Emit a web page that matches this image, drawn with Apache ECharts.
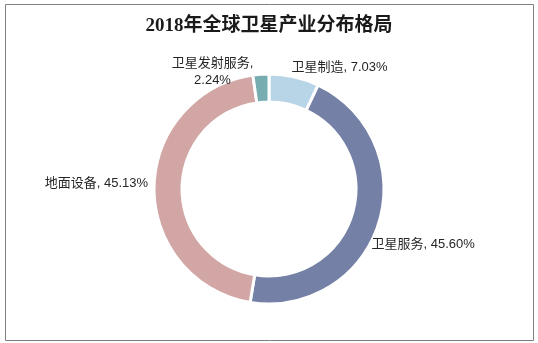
<!DOCTYPE html>
<html>
<head>
<meta charset="utf-8">
<script src="https://cdn.jsdelivr.net/npm/echarts@6/dist/echarts.min.js"></script>
<style>
  html, body { margin: 0; padding: 0; background: #ffffff; }
  #chart { width: 538px; height: 343px; }
</style>
</head>
<body>
<div id="chart"></div>
<script>
// Segments of the 2018 global satellite industry, in percent
const categories = ['卫星制造', '卫星服务', '地面设备', '卫星发射服务'];
const shares = [7.03, 45.60, 45.13, 2.24];
const colors = ['#b8d4e7', '#7480a6', '#d3a6a6', '#77adb0'];
const labelText = ['卫星制造, 7.03%', '卫星服务, 45.60%', '地面设备, 45.13%', '卫星发射服务,\n2.24%'];

// Small nudges applied to the outside labels after the pie lays them out
const labelNudge = [
  { dx: -4, dy: -4 },
  { dx: -13, dy: 19 },
  { dx: 0, dy: -4 },
  { dx: -48, dy: 4, align: 'center' }
];

const chart = echarts.init(document.getElementById('chart'), null, { renderer: 'canvas' });

chart.setOption({
  animation: false,
  backgroundColor: '#ffffff',
  title: {
    text: '2018年全球卫星产业分布格局',
    left: 'center',
    top: 12,
    textStyle: {
      fontFamily: '"Liberation Serif", "DejaVu Serif", "Noto Sans CJK SC", serif',
      fontSize: 19,
      fontWeight: 'bold',
      color: '#1a1a1a'
    }
  },
  graphic: [{
    type: 'rect',
    shape: { x: 5.5, y: 4.5, width: 528, height: 336 },
    style: { fill: 'none', stroke: '#808080', lineWidth: 1 },
    silent: true,
    z: -1
  }],
  series: [{
    type: 'pie',
    center: [269, 189],
    radius: [87, 115],
    startAngle: 90,
    clockwise: true,
    avoidLabelOverlap: false,
    itemStyle: { borderColor: '#ffffff', borderWidth: 3 },
    label: {
      show: true,
      position: 'outside',
      distanceToLabelLine: 0,
      fontFamily: '"Liberation Sans", "Noto Sans CJK SC", sans-serif',
      fontSize: 13,
      color: '#262626',
      lineHeight: 17,
      formatter: p => labelText[p.dataIndex]
    },
    labelLine: { show: false, length: 6, length2: 0 },
    labelLayout: p => labelNudge[p.dataIndex],
    data: categories.map((name, i) => ({
      name: name,
      value: shares[i],
      itemStyle: { color: colors[i] }
    }))
  }]
});
</script>
</body>
</html>
